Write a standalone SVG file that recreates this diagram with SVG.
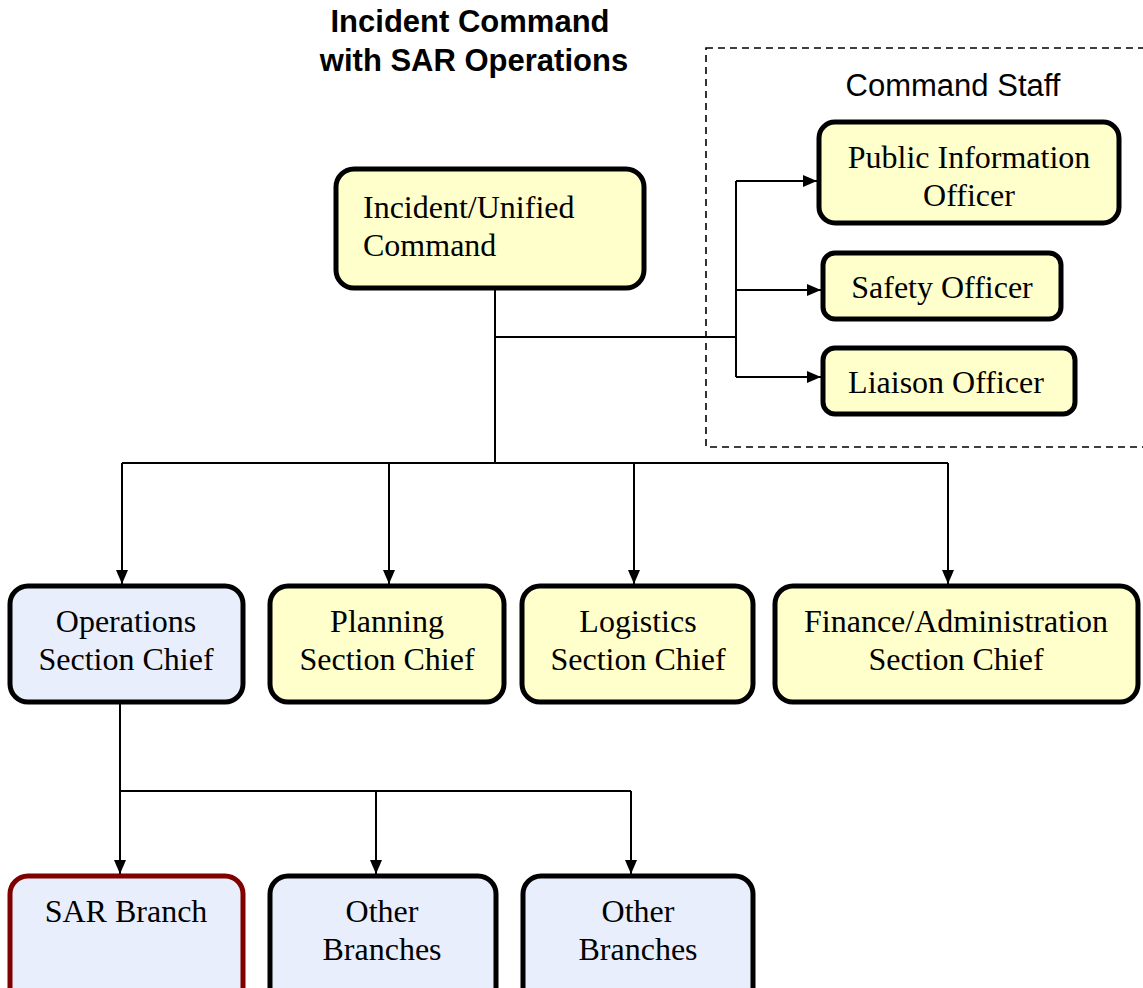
<svg xmlns="http://www.w3.org/2000/svg" width="1143" height="988" viewBox="0 0 1143 988">
<defs>
<marker id="arr" viewBox="0 0 14 12" refX="14" refY="6" markerWidth="14" markerHeight="12" markerUnits="userSpaceOnUse" orient="auto">
<path d="M0,0 L14,6 L0,12 Z" fill="#000"/>
</marker>
<style>
.box{stroke:#000;stroke-width:5}
.y{fill:#FFFFCC}
.b{fill:#E8EEFC}
.sar{stroke:#800000}
.t{font-family:"Liberation Serif","Times New Roman",serif;font-size:32px;fill:#000}
.c{text-anchor:middle}
.ln{fill:none;stroke:#000;stroke-width:2}
.title{font-family:"Liberation Sans",Arial,sans-serif;font-size:31px;font-weight:bold;text-anchor:middle;fill:#000}
.staff{font-family:"Liberation Sans",Arial,sans-serif;font-size:31px;text-anchor:middle;fill:#000}
</style>
</defs>
<rect width="1143" height="988" fill="#fff"/>
<g id="title">
<text class="title" x="470" y="32">Incident Command</text>
<text class="title" x="474" y="71">with SAR Operations</text>
</g>
<g id="command-staff-group">
<rect x="706" y="48" width="460" height="399" fill="none" stroke="#000" stroke-width="1.6" stroke-dasharray="7 5"/>
<text class="staff" x="953" y="96">Command Staff</text>
</g>
<g id="connectors">
<path class="ln" d="M495,290 V463"/>
<path class="ln" d="M495,337 H736"/>
<path class="ln" d="M736,181 V377"/>
<path class="ln" d="M736,181 H817" marker-end="url(#arr)"/>
<path class="ln" d="M736,290 H821" marker-end="url(#arr)"/>
<path class="ln" d="M736,377 H821" marker-end="url(#arr)"/>
<path class="ln" d="M122,463 H948"/>
<path class="ln" d="M122,463 V584" marker-end="url(#arr)"/>
<path class="ln" d="M389,463 V584" marker-end="url(#arr)"/>
<path class="ln" d="M634,463 V584" marker-end="url(#arr)"/>
<path class="ln" d="M948,463 V584" marker-end="url(#arr)"/>
<path class="ln" d="M120,703 V874" marker-end="url(#arr)"/>
<path class="ln" d="M120,791 H631"/>
<path class="ln" d="M376,791 V874" marker-end="url(#arr)"/>
<path class="ln" d="M631,791 V874" marker-end="url(#arr)"/>
</g>
<g id="incident-command">
<rect class="box y" x="336" y="169" width="308" height="119" rx="18"/>
<text class="t" x="363" y="218">Incident/Unified</text>
<text class="t" x="363" y="256">Command</text>
</g>
<g id="pio">
<rect class="box y" x="819" y="122" width="300" height="101" rx="16"/>
<text class="t c" x="969" y="168">Public Information</text>
<text class="t c" x="969" y="206">Officer</text>
</g>
<g id="safety">
<rect class="box y" x="823" y="253" width="238" height="66" rx="12"/>
<text class="t c" x="942" y="298">Safety Officer</text>
</g>
<g id="liaison">
<rect class="box y" x="823" y="348" width="252" height="66" rx="12"/>
<text class="t c" x="946" y="393">Liaison Officer</text>
</g>
<g id="operations">
<rect class="box b" x="10" y="586" width="233" height="116" rx="18"/>
<text class="t c" x="126" y="632">Operations</text>
<text class="t c" x="126" y="670">Section Chief</text>
</g>
<g id="planning">
<rect class="box y" x="270" y="586" width="234" height="116" rx="18"/>
<text class="t c" x="387" y="632">Planning</text>
<text class="t c" x="387" y="670">Section Chief</text>
</g>
<g id="logistics">
<rect class="box y" x="522" y="586" width="231" height="116" rx="18"/>
<text class="t c" x="638" y="632">Logistics</text>
<text class="t c" x="638" y="670">Section Chief</text>
</g>
<g id="finance">
<rect class="box y" x="775" y="586" width="363" height="116" rx="18"/>
<text class="t c" x="956" y="632">Finance/Administration</text>
<text class="t c" x="956" y="670">Section Chief</text>
</g>
<g id="sar-branch">
<rect class="box b sar" x="10" y="876" width="233" height="130" rx="18"/>
<text class="t c" x="126" y="922">SAR Branch</text>
</g>
<g id="other-branches-1">
<rect class="box b" x="270" y="876" width="226" height="130" rx="18"/>
<text class="t c" x="382" y="922">Other</text>
<text class="t c" x="382" y="960">Branches</text>
</g>
<g id="other-branches-2">
<rect class="box b" x="523" y="876" width="230" height="130" rx="18"/>
<text class="t c" x="638" y="922">Other</text>
<text class="t c" x="638" y="960">Branches</text>
</g>
</svg>
